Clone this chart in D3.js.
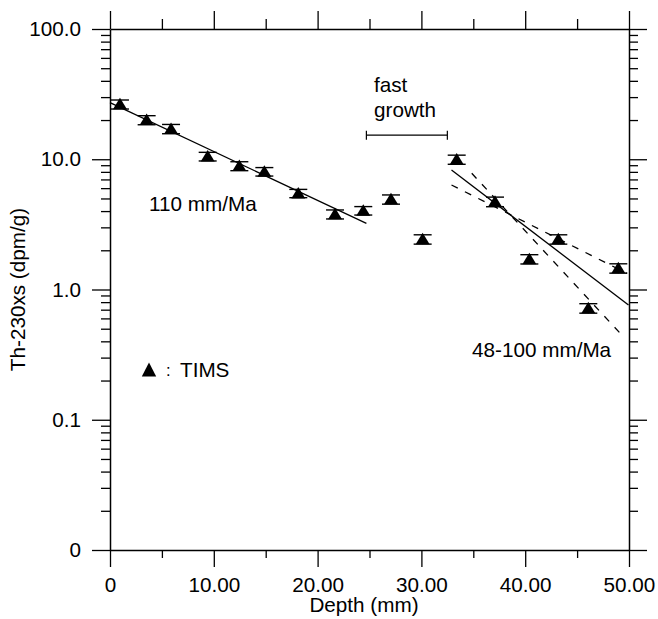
<!DOCTYPE html>
<html>
<head>
<meta charset="utf-8">
<script src="https://cdn.jsdelivr.net/npm/d3@7"></script>
<style>
  html, body { margin: 0; padding: 0; background: #fff; }
  svg { display: block; }
  text { font-family: "Liberation Sans", Arial, Helvetica, sans-serif; fill: #000; }
</style>
</head>
<body>
<svg id="chart" width="658" height="619"></svg>
<script>
// Th-230 excess versus depth (TIMS measurements)
const depth   = [0.96, 3.53, 5.88, 9.41, 12.46, 14.87, 18.14, 21.68, 24.40, 27.07, 30.12, 33.40, 37.09, 40.40, 43.19, 46.08, 48.97];
const th230xs = [26.4, 20.0, 17.1, 10.5, 8.87, 8.03, 5.47, 3.78, 4.03, 4.92, 2.43, 9.95, 4.72, 1.71, 2.43, 0.718, 1.455];
const th230err = [2.1, 1.6, 1.4, 0.8, 0.7, 0.6, 0.4, 0.3, 0.3, 0.4, 0.2, 0.8, 0.4, 0.14, 0.2, 0.06, 0.12];

// Regression lines (depth, value) pairs
const fitUpperDepth = [0, 24.7];
const fitUpperValue = [27.2, 3.22];
const fitLowerDepth = [32.9, 49.95];
const fitLowerValue = [8.26, 0.76];
const bandSteepDepth = [34.85, 49.45];
const bandSteepValue = [7.80, 0.435];
const bandShallowDepth = [32.9, 49.8];
const bandShallowValue = [6.34, 1.33];

// "fast growth" interval
const fastGrowthDepth = [24.7, 32.5];
const fastGrowthLevel = 15.3;

// Axis ticks
const xMajor = [0, 10, 20, 30, 40, 50];
const xLabels = ["0", "10.00", "20.00", "30.00", "40.00", "50.00"];
const xMinor = [5, 15, 25, 35, 45];
const yMajor = [0.01, 0.1, 1, 10, 100];
const yLabels = ["0", "0.1", "1.0", "10.0", "100.0"];

const FONT = 20.7;
const svg = d3.select("#chart");

const x = d3.scaleLinear().domain([0, 50]).range([110, 629]);
const y = d3.scaleLog().domain([0.01, 100]).range([550, 29]);

const isPow10 = v => Math.abs(Math.log10(v) - Math.round(Math.log10(v))) < 1e-9;
const yMinor = y.ticks().filter(v => !isPow10(v));

function styleAxis(g) {
  g.selectAll("path.domain").attr("stroke", "#000").attr("stroke-width", 1.5);
  g.selectAll(".tick line").attr("stroke", "#000").attr("stroke-width", 1.3);
  g.selectAll(".tick text").attr("font-size", FONT).attr("font-family", "Liberation Sans, Arial, sans-serif").attr("fill", "#000");
}

// Left axis
svg.append("g").attr("transform", `translate(${x(0)},0)`)
  .call(d3.axisLeft(y).tickValues(yMajor).tickSize(18).tickSizeOuter(0).tickPadding(11)
    .tickFormat((d, i) => yLabels[i]))
  .call(styleAxis);
svg.append("g").attr("transform", `translate(${x(0)},0)`)
  .call(d3.axisLeft(y).tickValues(yMinor).tickSize(9).tickSizeOuter(0).tickFormat(""))
  .call(styleAxis).call(g => g.select("path.domain").remove());

// Right axis
svg.append("g").attr("transform", `translate(${x(50)},0)`)
  .call(d3.axisRight(y).tickValues(yMajor).tickSize(18).tickSizeOuter(0).tickFormat(""))
  .call(styleAxis);
svg.append("g").attr("transform", `translate(${x(50)},0)`)
  .call(d3.axisRight(y).tickValues(yMinor).tickSize(9).tickSizeOuter(0).tickFormat(""))
  .call(styleAxis).call(g => g.select("path.domain").remove());

// Bottom axis
svg.append("g").attr("transform", `translate(0,${y(0.01)})`)
  .call(d3.axisBottom(x).tickValues(xMajor).tickSize(17).tickSizeOuter(0).tickPadding(10)
    .tickFormat((d, i) => xLabels[i]))
  .call(styleAxis);
svg.append("g").attr("transform", `translate(0,${y(0.01)})`)
  .call(d3.axisBottom(x).tickValues(xMinor).tickSize(8).tickSizeOuter(0).tickFormat(""))
  .call(styleAxis).call(g => g.select("path.domain").remove());

// Top axis
svg.append("g").attr("transform", `translate(0,${y(100)})`)
  .call(d3.axisTop(x).tickValues(xMajor).tickSize(18).tickSizeOuter(0).tickFormat(""))
  .call(styleAxis);
svg.append("g").attr("transform", `translate(0,${y(100)})`)
  .call(d3.axisTop(x).tickValues(xMinor).tickSize(10).tickSizeOuter(0).tickFormat(""))
  .call(styleAxis).call(g => g.select("path.domain").remove());

// Axis titles
svg.append("text")
  .attr("x", 364).attr("y", 612)
  .attr("text-anchor", "middle").attr("font-size", FONT)
  .text("Depth (mm)");
svg.append("text")
  .attr("transform", `translate(25,${(y(100) + y(0.01)) / 2}) rotate(-90)`)
  .attr("text-anchor", "middle").attr("font-size", FONT)
  .text("Th-230xs (dpm/g)");

// Fit lines
const line = d3.line().x(d => x(d[0])).y(d => y(d[1]));
function drawFit(ds, vs, dashed) {
  svg.append("path")
    .datum(d3.zip(ds, vs))
    .attr("d", line)
    .attr("fill", "none")
    .attr("stroke", "#000")
    .attr("stroke-width", 1.3)
    .attr("stroke-dasharray", dashed ? "7,8" : null);
}
drawFit(fitUpperDepth, fitUpperValue, false);
drawFit(fitLowerDepth, fitLowerValue, false);
drawFit(bandSteepDepth, bandSteepValue, true);
drawFit(bandShallowDepth, bandShallowValue, true);

// Data points with error bars
const pts = d3.zip(depth, th230xs, th230err);
const pg = svg.append("g").selectAll("g").data(pts).join("g");
pg.append("line")
  .attr("x1", d => x(d[0])).attr("x2", d => x(d[0]))
  .attr("y1", d => y(d[1] + d[2])).attr("y2", d => y(d[1] - d[2]))
  .attr("stroke", "#000").attr("stroke-width", 1.3);
pg.append("line")
  .attr("x1", d => x(d[0]) - 9).attr("x2", d => x(d[0]) + 9)
  .attr("y1", d => y(d[1] + d[2])).attr("y2", d => y(d[1] + d[2]))
  .attr("stroke", "#000").attr("stroke-width", 1.4);
pg.append("line")
  .attr("x1", d => x(d[0]) - 9).attr("x2", d => x(d[0]) + 9)
  .attr("y1", d => y(d[1] - d[2])).attr("y2", d => y(d[1] - d[2]))
  .attr("stroke", "#000").attr("stroke-width", 1.4);
pg.append("path")
  .attr("transform", d => `translate(${x(d[0])},${y(d[1])})`)
  .attr("d", "M0,-6.5L7,5L-7,5Z")
  .attr("fill", "#000");

// Fast growth interval bracket
const by = y(fastGrowthLevel);
svg.append("line")
  .attr("x1", x(fastGrowthDepth[0])).attr("x2", x(fastGrowthDepth[1]))
  .attr("y1", by).attr("y2", by)
  .attr("stroke", "#000").attr("stroke-width", 1.2);
fastGrowthDepth.forEach(d => {
  svg.append("line")
    .attr("x1", x(d)).attr("x2", x(d))
    .attr("y1", by - 4.5).attr("y2", by + 4.5)
    .attr("stroke", "#000").attr("stroke-width", 1.2);
});

// Annotations
svg.append("text").attr("x", 374).attr("y", 92).attr("font-size", FONT).text("fast");
svg.append("text").attr("x", 374).attr("y", 117).attr("font-size", FONT).text("growth");
svg.append("text").attr("x", 149).attr("y", 211).attr("font-size", FONT).text("110 mm/Ma");
svg.append("text").attr("x", 472).attr("y", 357).attr("font-size", FONT).text("48-100 mm/Ma");

// Legend
svg.append("path")
  .attr("transform", "translate(149,370)")
  .attr("d", "M0,-7.5L7.2,6.5L-7.2,6.5Z")
  .attr("fill", "#000");
svg.append("text").attr("x", 166).attr("y", 376).attr("font-size", FONT * 0.8).text(":");
svg.append("text").attr("x", 180).attr("y", 377).attr("font-size", FONT).text("TIMS");
</script>
</body>
</html>
